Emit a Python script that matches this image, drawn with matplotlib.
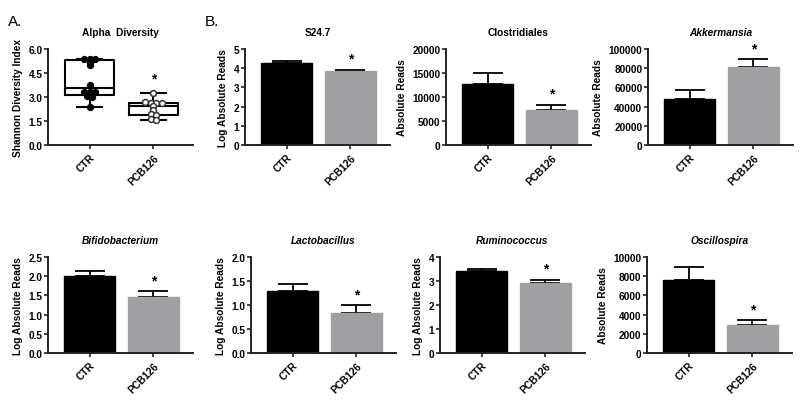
import numpy as np
import matplotlib
matplotlib.use("Agg")
import matplotlib.pyplot as plt
from matplotlib.ticker import FormatStrFormatter

plt.rcParams['font.family'] = ['Liberation Sans', 'DejaVu Sans']
plt.rcParams['font.weight'] = 'bold'

groups = ["CTR", "PCB126"]

# Panel A: Shannon diversity points
alpha_ctr = [5.38, 5.38, 5.35, 5.12, 4.98, 3.77, 3.33, 3.33, 3.30, 3.05, 3.00, 2.40]
alpha_pcb = [3.28, 2.68, 2.65, 2.62, 2.60, 2.45, 2.20, 1.92, 1.88, 1.60, 1.58]

# Panel B: bar panels (mean, SEM top)
titles = ["S24.7", "Clostridiales", "Akkermansia",
          "Bifidobacterium", "Lactobacillus", "Ruminococcus", "Oscillospira"]
italic = [False, False, True, True, True, True, True]
ylabels = ["Log Absolute Reads", "Absolute Reads", "Absolute Reads",
           "Log Absolute Reads", "Log Absolute Reads", "Log Absolute Reads", "Absolute Reads"]
means = [[4.25, 3.83], [12800, 7250], [47700, 80800],
         [1.995, 1.455], [1.30, 0.836], [3.42, 2.93], [7650, 2950]]
err_top = [[4.35, 3.92], [15000, 8360], [57500, 89500],
           [2.13, 1.61], [1.44, 0.99], [3.52, 3.04], [9000, 3420]]
yticks = [np.arange(0, 6, 1), np.arange(0, 20001, 5000), np.arange(0, 100001, 20000),
          np.arange(0, 2.51, 0.5), np.arange(0, 2.01, 0.5), np.arange(0, 5, 1),
          np.arange(0, 10001, 2000)]
yfmt = ["%d", "%d", "%d", "%.1f", "%.1f", "%d", "%d"]

W, H = 800, 406
fig = plt.figure(figsize=(W / 100, H / 100), dpi=100)

GRAY = "#a0a0a4"
AX = "#222222"


def make_ax(left_px, top_px, w_px=145, h_px=96):
    return fig.add_axes([left_px / W, (H - top_px - h_px) / H, w_px / W, h_px / H])


def style(ax):
    for s in ["top", "right"]:
        ax.spines[s].set_visible(False)
    for s in ["left", "bottom"]:
        ax.spines[s].set_linewidth(1.4)
        ax.spines[s].set_color(AX)
    ax.tick_params(axis="y", length=3, width=1.2, color=AX, labelsize=7.3, pad=1)
    ax.tick_params(axis="x", length=3, width=1.2, color=AX, labelsize=7.3, pad=2)
    ax.set_xlim(-0.65, 1.62)
    ax.set_xticks([0, 1])
    ax.set_xticklabels(groups, rotation=45, ha="right", rotation_mode="anchor", fontweight="bold")


def swarm(vals, spacing=0.09, tol=0.12):
    vals = np.asarray(vals, float)
    order = np.argsort(-vals)
    xs = np.zeros(len(vals))
    i = 0
    while i < len(order):
        j = i
        while j + 1 < len(order) and vals[order[i]] - vals[order[j + 1]] < tol:
            j += 1
        n = j - i + 1
        offs = (np.arange(n) - (n - 1) / 2) * spacing
        for k, idx in enumerate(order[i:j + 1]):
            xs[idx] = offs[k]
        i = j + 1
    return xs

# ---- Panel A
axA = make_ax(48, 50)
style(axA)
data = [alpha_ctr, alpha_pcb]
stats = []
for d in data:
    d = np.asarray(d)
    q1, med, q3 = np.percentile(d, [25, 50, 75], method="weibull")
    stats.append(dict(med=med, q1=q1, q3=q3, whislo=d.min(), whishi=d.max(), fliers=[]))
axA.bxp(stats, positions=[0, 1], widths=0.76, showfliers=False,
        boxprops=dict(color="black", linewidth=1.5),
        medianprops=dict(color="black", linewidth=1.5),
        whiskerprops=dict(color="black", linewidth=1.5),
        capprops=dict(color="black", linewidth=1.5), capwidths=0.4,
        manage_ticks=False)
axA.scatter(0 + swarm(alpha_ctr), alpha_ctr, s=18, color="black", zorder=3)
axA.scatter(1 + swarm(alpha_pcb), alpha_pcb, s=18, facecolor="white", edgecolor="#333333",
            linewidth=1.1, zorder=3)
axA.set_ylim(0, 6.0)
axA.set_yticks(np.arange(0, 6.01, 1.5))
axA.yaxis.set_major_formatter(FormatStrFormatter("%.1f"))
axA.set_ylabel("Shannon Diversity Index", fontsize=7.3, fontweight="bold", labelpad=4)
axA.set_title("Alpha  Diversity", fontsize=7.3, fontweight="bold", pad=10)
axA.annotate("*", (1, max(alpha_pcb)), xytext=(0, 10), textcoords="offset points",
             ha="center", va="center", fontsize=10, fontweight="bold")

# ---- Panel B bars
lefts = [245, 446, 648, 48, 251, 440, 647]
tops = [50, 50, 50, 258, 258, 258, 258]
for i in range(7):
    ax = make_ax(lefts[i], tops[i])
    style(ax)
    m = means[i]
    e = [err_top[i][k] - m[k] for k in range(2)]
    ax.bar([0, 1], m, width=0.8, color=["black", GRAY], edgecolor=["black", GRAY],
           linewidth=1.0, zorder=2)
    ax.errorbar([0, 1], m, yerr=[[0, 0], e], fmt="none", ecolor="black",
                elinewidth=1.3, capsize=11, capthick=1.3, zorder=1)
    ymax = yticks[i][-1]
    ax.set_ylim(0, ymax)
    ax.set_yticks(yticks[i])
    ax.yaxis.set_major_formatter(FormatStrFormatter(yfmt[i]))
    ax.set_ylabel(ylabels[i], fontsize=7.3, fontweight="bold", labelpad=4)
    ax.set_title(titles[i], fontsize=7.3, fontweight="bold",
                 fontstyle="italic" if italic[i] else "normal", pad=10)
    ax.annotate("*", (1, err_top[i][1]), xytext=(0, 8), textcoords="offset points",
                ha="center", va="center", fontsize=10, fontweight="bold")

fig.text(8 / W, 1 - 22 / H, "A.", fontsize=11, fontweight="normal", va="center", ha="left")
fig.text(205 / W, 1 - 22 / H, "B.", fontsize=11, fontweight="normal", va="center", ha="left")

fig.savefig("out.png", dpi=100)
